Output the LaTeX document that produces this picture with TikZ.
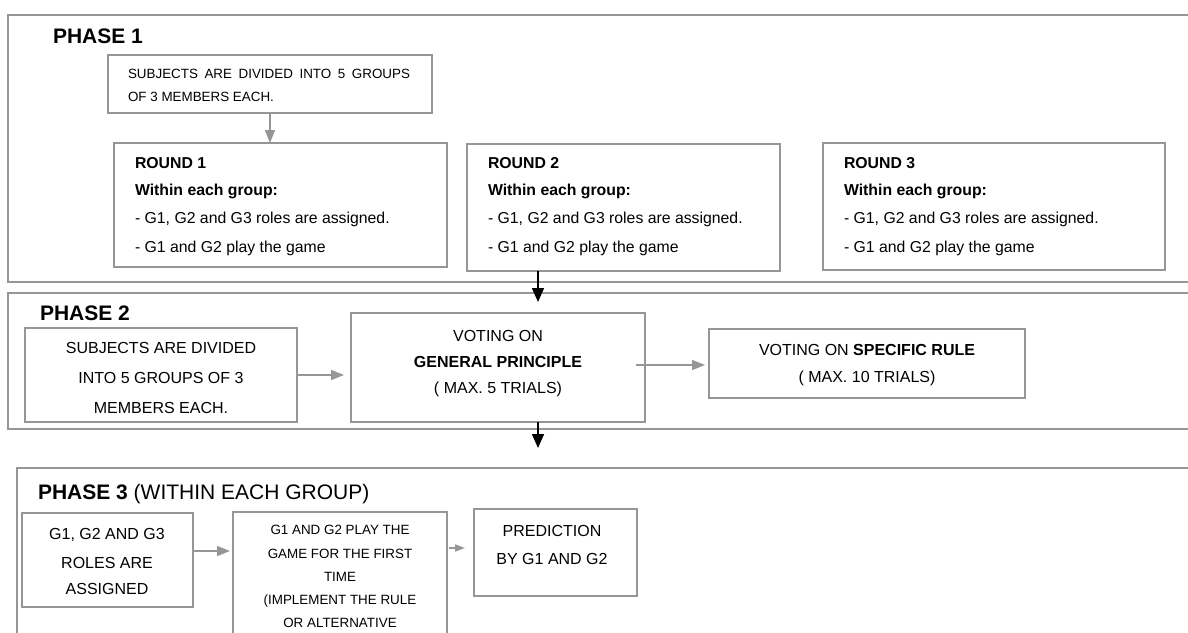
\documentclass[tikz,border=0pt]{standalone}
\usepackage{fontspec}
\setmainfont{Liberation Sans}
\usetikzlibrary{arrows.meta}
\definecolor{lgray}{RGB}{150,150,150}
\newcommand\setfs[1]{\fontsize{#1}{#1}\selectfont}
\begin{document}
\begin{tikzpicture}[x=1pt,y=-1pt,
  gbox/.style={draw=lgray, line width=1.8pt, rectangle, inner sep=0pt, outer sep=0pt, anchor=north west},
  phbox/.style={draw=lgray, line width=1.8pt, rectangle, inner sep=0pt, outer sep=0pt, anchor=north west},
  txt/.style={inner sep=0pt, outer sep=0pt, text=black},
  ttl/.style={txt, anchor=base west, font=\setfs{21}},
  rtxt/.style={txt, anchor=base west, font=\setfs{15.8}},
  smtxt/.style={txt, font=\setfs{13.4}},
  mtxt/.style={txt, anchor=base, font=\setfs{16}},
  garrow/.style={draw=lgray, line width=1.6pt, -{Triangle[length=13pt,width=10pt]}},
  sgarrow/.style={draw=lgray, line width=1.6pt, -{Triangle[length=10pt,width=7pt]}},
  barrow/.style={draw=black, line width=1.5pt, -{Triangle[length=14pt,width=12pt]}}
]
\useasboundingbox (0,0) rectangle (1188,632);
\clip (0,0) rectangle (1188,632);

% ---------------- PHASE 1 ----------------
\node[phbox, minimum width=1200pt, minimum height=267pt] (ph1) at (8,15) {};
\node[ttl] (t1) at (53,43.5) {\bfseries PHASE 1};
\node[gbox, minimum width=324pt, minimum height=58pt] (s1) at (108,55) {};
\node[smtxt, anchor=base west] (s1a) at (128,78) {\makebox[282pt][s]{SUBJECTS ARE DIVIDED INTO 5 GROUPS}};
\node[smtxt, anchor=base west] (s1b) at (128,101.5) {OF 3 MEMBERS EACH.};

\node[gbox, minimum width=333pt, minimum height=124pt] (r1) at (114,143) {};
\node[rtxt] (r1a) at (135,168.5) {\bfseries ROUND 1};
\node[rtxt] (r1b) at (135,195.5) {\bfseries Within each group:};
\node[rtxt] (r1c) at (135,223.5) {- G1, G2 and G3 roles are assigned.};
\node[rtxt] (r1d) at (135,252.5) {- G1 and G2 play the game};

\node[gbox, minimum width=313pt, minimum height=127pt] (r2) at (467,144) {};
\node[rtxt] (r2a) at (488,168.5) {\bfseries ROUND 2};
\node[rtxt] (r2b) at (488,195.5) {\bfseries Within each group:};
\node[rtxt] (r2c) at (488,223.5) {- G1, G2 and G3 roles are assigned.};
\node[rtxt] (r2d) at (488,252.5) {- G1 and G2 play the game};

\node[gbox, minimum width=342pt, minimum height=127pt] (r3) at (823,143) {};
\node[rtxt] (r3a) at (844,168.5) {\bfseries ROUND 3};
\node[rtxt] (r3b) at (844,195.5) {\bfseries Within each group:};
\node[rtxt] (r3c) at (844,223.5) {- G1, G2 and G3 roles are assigned.};
\node[rtxt] (r3d) at (844,252.5) {- G1 and G2 play the game};

\draw[garrow] (s1.south) -- (s1.south |- r1.north);

% ---------------- PHASE 2 ----------------
\node[phbox, minimum width=1200pt, minimum height=136pt] (ph2) at (8,293) {};
\node[ttl] (t2) at (40,320.5) {\bfseries PHASE 2};

\node[gbox, minimum width=272pt, minimum height=94pt] (s2) at (25,328) {};
\node[mtxt] (s2a) at (161,353) {SUBJECTS ARE DIVIDED};
\node[mtxt] (s2b) at (161,383) {INTO 5 GROUPS OF 3};
\node[mtxt] (s2c) at (161,413) {MEMBERS EACH.};

\node[gbox, minimum width=294pt, minimum height=109pt] (vg) at (351,313) {};
\node[mtxt] (vga) at (498,341) {VOTING ON};
\node[mtxt] (vgb) at (498,367) {\bfseries GENERAL PRINCIPLE};
\node[mtxt] (vgc) at (498,393) {( MAX. 5 TRIALS)};

\node[gbox, minimum width=316pt, minimum height=69pt] (sr) at (709,329) {};
\node[mtxt] (sra) at (867,355.7) {VOTING ON \textbf{SPECIFIC RULE}};
\node[mtxt] (srb) at (867,382.7) {( MAX. 10 TRIALS)};

\draw[garrow, shorten >=7pt] (s2.east) -- (s2.east -| vg.west);
\coordinate (g2s) at (636,365);
\draw[garrow, shorten >=4pt] (g2s) -- (g2s -| sr.west);

% black arrows between phases
\coordinate (a1) at (538,302);
\draw[barrow] (r2.south -| a1) -- (a1);
\coordinate (a2) at (538,448);
\draw[barrow] (vg.south -| a2) -- (a2);

% ---------------- PHASE 3 ----------------
\node[phbox, minimum width=1200pt, minimum height=300pt] (ph3) at (17,468) {};
\node[ttl] (t3) at (38,499.5) {\textbf{PHASE 3} (WITHIN EACH GROUP)};

\node[gbox, minimum width=171pt, minimum height=94pt] (p1) at (22,513) {};
\node[mtxt] (p1a) at (107,539) {G1, G2 AND G3};
\node[mtxt] (p1b) at (107,568) {ROLES ARE};
\node[mtxt] (p1c) at (107,594) {ASSIGNED};

\node[gbox, minimum width=214pt, minimum height=200pt] (p2) at (233,512) {};
\node[smtxt, anchor=base] (p2a) at (340,534) {G1 AND G2 PLAY THE};
\node[smtxt, anchor=base] (p2b) at (340,558) {GAME FOR THE FIRST};
\node[smtxt, anchor=base] (p2c) at (340,581) {TIME};
\node[smtxt, anchor=base] (p2d) at (340,604) {(IMPLEMENT THE RULE};
\node[smtxt, anchor=base] (p2e) at (340,627) {OR ALTERNATIVE};

\node[gbox, minimum width=163pt, minimum height=87pt] (p3) at (474,509) {};
\node[mtxt] (p3a) at (552,536) {PREDICTION};
\node[mtxt] (p3b) at (552,564) {BY G1 AND G2};

\coordinate (q1) at (193,551);
\draw[garrow, shorten >=3pt] (q1) -- (q1 -| p2.west);
\coordinate (q2) at (449,548);
\draw[sgarrow, shorten >=9pt] (q2) -- (q2 -| p3.west);
\end{tikzpicture}
\end{document}
